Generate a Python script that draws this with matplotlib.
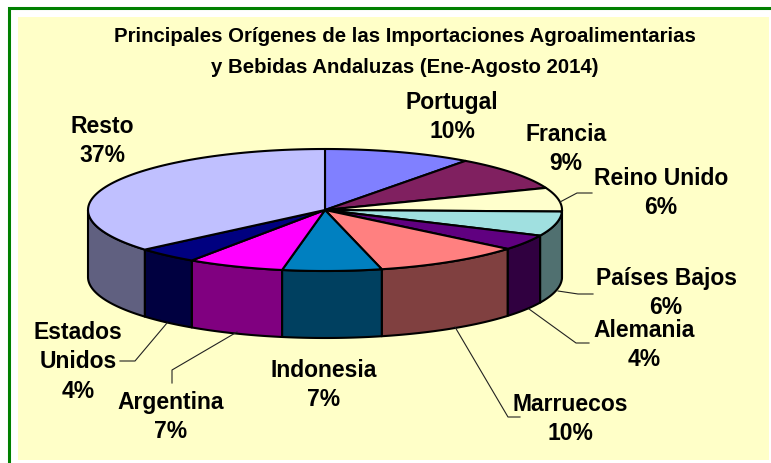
import numpy as np
from matplotlib import pyplot as plt
from matplotlib.patches import Polygon, Rectangle

paises = ["Portugal", "Francia", "Reino Unido", "Países Bajos", "Alemania",
          "Marruecos", "Indonesia", "Argentina", "Estados\nUnidos", "Resto"]
valores = [10.1, 9.0, 6.3, 6.5, 4.1, 10.15, 6.75, 6.6, 4.25, 36.25]
etiquetas = ["10%", "9%", "6%", "6%", "4%", "10%", "7%", "7%", "4%", "37%"]
colores = ["#8080FF", "#802060", "#FFFFCC", "#A0E0E0", "#600080",
           "#FF8080", "#0080C0", "#FF00FF", "#000080", "#C0C0FF"]
laterales = ["#404080", "#401030", "#808066", "#507070", "#300040",
             "#804040", "#004060", "#800080", "#000040", "#606080"]
titulo = "Principales Orígenes de las Importaciones Agroalimentarias\ny Bebidas Andaluzas (Ene-Agosto 2014)"

# label centres in pixels
pos_etiquetas = [(452, 117), (566, 149), (661, 193), (666, 293), (644, 345),
                 (570, 419), (324, 385), (171, 417), (78, 362), (102, 141)]
# leader lines, pixels
guias = {2: [(560, 202), (577, 193), (592, 193)],
         3: [(558, 291), (578, 294), (593, 294)],
         4: [(529, 309), (576, 343), (589, 343)],
         5: [(455, 327), (508, 417), (520, 417)],
         7: [(237, 332), (172, 370), (172, 383)],
         8: [(167, 323), (135, 361), (120, 361)]}

cx, cy = 325, 210
rx, ry = 237, 61
alto = 67

plt.rcParams['font.family'] = ['Liberation Sans', 'DejaVu Sans']
fig = plt.figure(figsize=(7.71, 4.63), dpi=100)
ax = fig.add_axes([0, 0, 1, 1])
ax.set_xlim(0, 771)
ax.set_ylim(463, 0)
ax.axis('off')

ax.add_patch(Rectangle((9, 7.7), 900, 900, fc='white', ec='#008000', lw=2.2))
ax.add_patch(Rectangle((18, 17), 751, 443, fc='#FFFFC8', ec='none'))


def borde(t):
    # t in degrees, clockwise from the top
    t = np.radians(t)
    return cx + rx * np.sin(t), cy - ry * np.cos(t)


total = sum(valores)
cortes = np.concatenate([[0], np.cumsum(valores)]) / total * 360

# walls first, only the front half of the pie shows
for i in range(len(valores)):
    a, b = max(cortes[i], 90), min(cortes[i + 1], 270)
    if b <= a:
        continue
    x, y = borde(np.linspace(a, b, 60))
    pts = np.column_stack([np.r_[x, x[::-1]], np.r_[y, y[::-1] + alto]])
    ax.add_patch(Polygon(pts, fc=laterales[i], ec='black', lw=1.5, joinstyle='round'))

for i in range(len(valores)):
    x, y = borde(np.linspace(cortes[i], cortes[i + 1], 80))
    pts = np.column_stack([np.r_[cx, x], np.r_[cy, y]])
    ax.add_patch(Polygon(pts, fc=colores[i], ec='black', lw=1.5, joinstyle='round'))

for i, g in guias.items():
    xs, ys = zip(*g)
    ax.plot(xs, ys, color='#222222', lw=0.8)

for i in range(len(paises)):
    px, py = pos_etiquetas[i]
    ax.text(px, py, paises[i] + "\n" + etiquetas[i], ha='center', va='center',
            fontsize=16.5, fontweight='bold', linespacing=1.34, color='black')

ax.text(405, 52, titulo, ha='center', va='center', fontsize=14.7,
        fontweight='bold', linespacing=1.78, color='black')

fig.savefig("out.png", dpi=100)
